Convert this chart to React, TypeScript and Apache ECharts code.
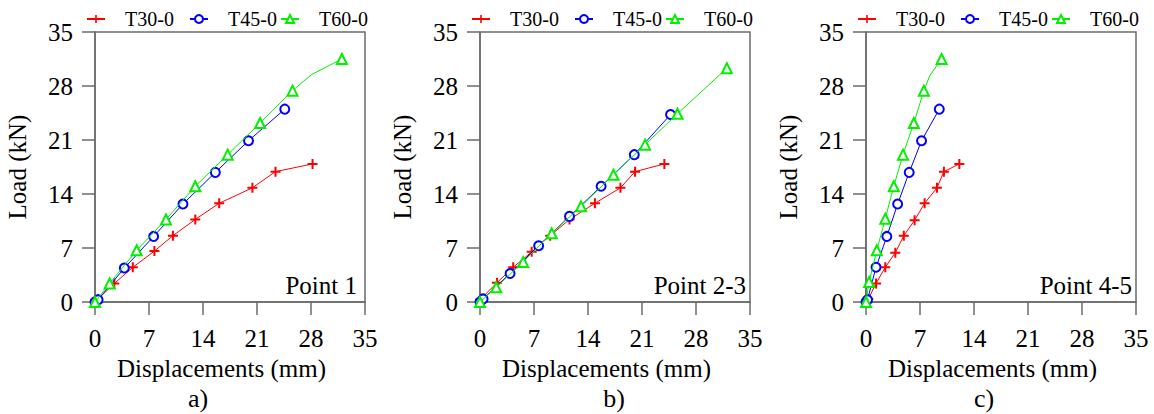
import React, { useEffect, useRef } from "react";
import * as echarts from "echarts";

// ---- data ----
const seriesNames = ["T30-0", "T45-0", "T60-0"];
const seriesColors = ["#ff0000", "#0000ff", "#00f000"];
const axisTicks = [0, 7, 14, 21, 28, 35];
const panelTags = ["a)", "b)", "c)"];
const pointLabels = ["Point 1", "Point 2-3", "Point 4-5"];

// Panel a (Point 1)
const aT30x = [0, 0.4, 2.5, 4.9, 7.7, 10.1, 13.0, 16.1, 20.4, 23.4, 28.2];
const aT30y = [0, 0.4, 2.4, 4.5, 6.6, 8.6, 10.7, 12.8, 14.8, 16.9, 17.9];
const aT45x = [0, 0.4, 3.8, 7.6, 11.4, 15.6, 19.9, 24.6];
const aT45y = [0, 0.3, 4.4, 8.5, 12.7, 16.8, 20.9, 25.0];
const aT60x = [0, 1.9, 5.4, 9.2, 13.0, 17.2, 21.4, 25.6, 28.1, 32.0];
const aT60y = [0, 2.4, 6.7, 10.7, 15.0, 19.1, 23.2, 27.4, 29.5, 31.5];
const aT60noMarker = [8];

// Panel b (Point 2-3)
const bT30x = [0, 0.1, 2.2, 4.3, 6.7, 9.1, 11.6, 14.9, 18.2, 20.1, 23.9];
const bT30y = [0, 0.4, 2.5, 4.5, 6.5, 8.6, 10.7, 12.8, 14.8, 16.9, 17.9];
const bT45x = [0, 0.4, 3.9, 7.6, 11.6, 15.7, 20.0, 24.7];
const bT45y = [0, 0.4, 3.7, 7.3, 11.1, 15.0, 19.1, 24.3];
const bT60x = [0, 2.1, 5.6, 9.3, 13.1, 17.3, 21.4, 25.6, 32.0];
const bT60y = [0, 1.9, 5.2, 8.9, 12.4, 16.5, 20.4, 24.4, 30.3];
const bT60noMarker: number[] = [];

// Panel c (Point 4-5)
const cT30x = [0, 0.3, 1.3, 2.5, 3.8, 4.9, 6.3, 7.6, 9.2, 10.1, 12.1];
const cT30y = [0, 0.4, 2.4, 4.5, 6.4, 8.6, 10.6, 12.8, 14.8, 16.9, 17.9];
const cT45x = [0, 0.2, 1.3, 2.7, 4.1, 5.6, 7.2, 9.5];
const cT45y = [0, 0.3, 4.5, 8.5, 12.7, 16.8, 20.9, 25.0];
const cT60x = [0, 0.4, 1.4, 2.5, 3.6, 4.8, 6.2, 7.5, 8.3, 9.8];
const cT60y = [0, 2.6, 6.7, 10.8, 15.0, 19.1, 23.2, 27.4, 29.4, 31.5];
const cT60noMarker = [8];

const panels = [
  { xs: [aT30x, aT45x, aT60x], ys: [aT30y, aT45y, aT60y], noMarker: [[], [], aT60noMarker] },
  { xs: [bT30x, bT45x, bT60x], ys: [bT30y, bT45y, bT60y], noMarker: [[], [], bT60noMarker] },
  { xs: [cT30x, cT45x, cT60x], ys: [cT30y, cT45y, cT60y], noMarker: [[], [], cT60noMarker] },
];

// ---- styling / layout ----
const FONT = "Liberation Serif";
const AXIS_COLOR = "#6b6b6b";
const PANEL_OFFSETS = [0, 385, 771];
const PLUS = "path://M4,0H6V4H10V6H6V10H4V6H0V4H4Z";
const symbols = [PLUS, "emptyCircle", "emptyTriangle"];
const symbolSizes = [10, 9, 10];
const legendIconLefts = [86, 189, 280];
const LEGEND_LEAD = "\u00a0\u00a0\u00a0";
const tagCenters = [198, 614, 984];
const pointRightGaps = [8, 4, 4];

function buildOption() {
  const grid: any[] = [];
  const xAxis: any[] = [];
  const yAxis: any[] = [];
  const series: any[] = [];
  const legend: any[] = [];
  const graphic: any[] = [];

  PANEL_OFFSETS.forEach((off, p) => {
    const left = 95 + off;
    grid.push({
      left,
      top: 32,
      width: 270,
      height: 270,
      show: true,
      borderColor: AXIS_COLOR,
      borderWidth: 1.5,
      backgroundColor: "transparent",
    });
    const common = {
      gridIndex: p,
      type: "value",
      min: axisTicks[0],
      max: axisTicks[axisTicks.length - 1],
      interval: axisTicks[1] - axisTicks[0],
      nameLocation: "middle",
      axisLine: { show: true, onZero: false, lineStyle: { color: AXIS_COLOR, width: 1.5 } },
      axisTick: { show: true, inside: false, length: 13, lineStyle: { color: AXIS_COLOR, width: 1.5 } },
      splitLine: { show: false },
    };
    xAxis.push({
      ...common,
      name: "Displacements (mm)",
      nameGap: 53,
      nameTextStyle: { fontFamily: FONT, fontSize: 25, color: "#000", padding: [0, 17, 0, 0] },
      axisLabel: { fontFamily: FONT, fontSize: 25, color: "#000", margin: 24 },
    });
    yAxis.push({
      ...common,
      name: "Load (kN)",
      nameGap: 65,
      nameTextStyle: { fontFamily: FONT, fontSize: 25, color: "#000" },
      axisLabel: { fontFamily: FONT, fontSize: 25, color: "#000", margin: 22 },
    });

    const pd = panels[p];
    seriesNames.forEach((name, s) => {
      const data = pd.xs[s].map((x, i) =>
        pd.noMarker[s].indexOf(i) >= 0
          ? { value: [x, pd.ys[s][i]], symbol: "none" }
          : { value: [x, pd.ys[s][i]] }
      );
      series.push({
        type: "line",
        name,
        xAxisIndex: p,
        yAxisIndex: p,
        data,
        symbol: symbols[s],
        symbolSize: symbolSizes[s],
        showAllSymbol: true,
        color: seriesColors[s],
        lineStyle: { color: seriesColors[s], width: 1 },
        itemStyle: {
          color: seriesColors[s],
          borderWidth: s === 0 ? 0 : 1.6,
        },
        emphasis: { disabled: true },
        z: 3 + s,
      });
      legend.push({
        data: [name],
        left: legendIconLefts[s] + off,
        top: 9,
        padding: 0,
        itemWidth: 18,
        itemHeight: 10,
        selectedMode: false,
        formatter: (n: string) => LEGEND_LEAD + n,
        textStyle: { fontFamily: FONT, fontSize: 20, color: "#000" },
      });
    });

    graphic.push({
      type: "text",
      x: left + 270 - pointRightGaps[p],
      y: 285,
      style: {
        text: pointLabels[p],
        font: `25px ${FONT}`,
        fill: "#000",
        align: "right",
        verticalAlign: "middle",
      },
    });
    graphic.push({
      type: "text",
      x: tagCenters[p],
      y: 398,
      style: {
        text: panelTags[p],
        font: `26px ${FONT}`,
        fill: "#000",
        align: "center",
        verticalAlign: "middle",
      },
    });
  });

  return {
    animation: false,
    backgroundColor: "#fff",
    grid,
    xAxis,
    yAxis,
    series,
    legend,
    graphic,
  };
}

export default function App() {
  const ref = useRef<HTMLDivElement>(null);
  useEffect(() => {
    if (!ref.current) return;
    const chart = echarts.init(ref.current, undefined, { renderer: "svg" });
    chart.setOption(buildOption() as any);
    return () => chart.dispose();
  }, []);
  return (
    <div
      ref={ref}
      style={{ position: "absolute", left: 0, top: 0, width: 1154, height: 414 }}
    />
  );
}
